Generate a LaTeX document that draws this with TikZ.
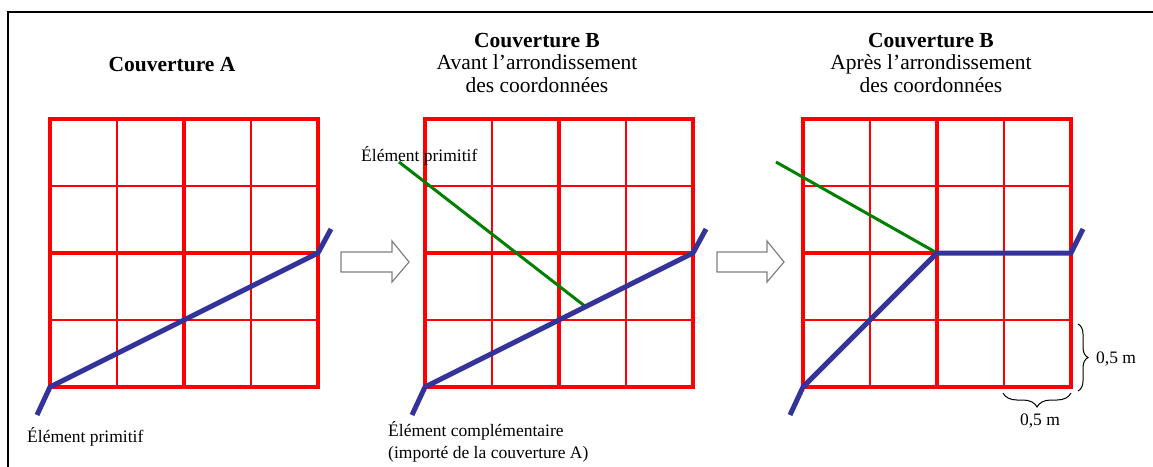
\documentclass[tikz,border=0pt]{standalone}
\usepackage{fontspec}
\setmainfont{Liberation Serif}
\usetikzlibrary{decorations.pathreplacing}
\definecolor{blueline}{RGB}{51,51,153}
\definecolor{greenline}{RGB}{0,128,0}
\definecolor{arrowgray}{RGB}{128,128,128}
\begin{document}
\begin{tikzpicture}[x=1pt,y=-1pt,
  thinred/.style={draw=red, line width=1.3pt},
  thickred/.style={draw=red, line width=4pt},
  bluepath/.style={draw=blueline, line width=5pt, line join=round},
  greenpath/.style={draw=greenline, line width=3pt},
  hollowarrow/.style={draw=arrowgray, line width=1.2pt, fill=white},
  ttl/.style={font=\fontsize{21.5}{22.5}\selectfont, align=center, inner sep=0pt},
  lbl/.style={font=\fontsize{17.5}{22}\selectfont, inner sep=0pt},
  bracestyle/.style={decorate, line width=1pt}
]
\useasboundingbox (0,0) rectangle (1153,466);
% frame
\draw[line width=1.5pt] (8,470) -- (8,12) -- (1160,12);

% grids
\foreach \gx in {50,425,803}{
  \foreach \i in {1,3}{
    \draw[thinred] (\gx+\i*67,119) -- (\gx+\i*67,387);
    \draw[thinred] (\gx,119+\i*67) -- (\gx+268,119+\i*67);
  }
  \draw[thickred] (\gx+134,119) -- (\gx+134,387);
  \draw[thickred] (\gx,253) -- (\gx+268,253);
  \draw[thickred] (\gx,119) rectangle (\gx+268,387);
}

% titles
\node[ttl, font=\fontsize{21.5}{22.5}\selectfont\bfseries, anchor=base] (tA) at (172,71) {Couverture A};
\node[ttl, anchor=base] (tB) at (537,92) {\textbf{Couverture B}\\Avant l’arrondissement\\des coordonnées};
\node[ttl, anchor=base] (tC) at (931,92) {\textbf{Couverture B}\\Après l’arrondissement\\des coordonnées};

% arrows
\draw[hollowarrow] (341,252) -- (392,252) -- (392,241) -- (409,262) -- (392,282) -- (392,272) -- (341,272) -- cycle;
\draw[hollowarrow] (717,252) -- (767,252) -- (767,241) -- (784,262) -- (767,282) -- (767,272) -- (717,272) -- cycle;

% panel A
\coordinate (a1) at (37,415);
\coordinate (a2) at (50,387);
\coordinate (a3) at (318,253);
\coordinate (a4) at (331,229);
\draw[bluepath] (a1) -- (a2) -- (a3) -- (a4);

% panel B
\coordinate (b1) at (412,415);
\coordinate (b2) at (425,387);
\coordinate (b3) at (693,253);
\coordinate (b4) at (706,229);
\coordinate (g1) at (399,162);
\coordinate (g2) at (586,307);
\draw[greenpath] (g1) -- (g2);
\draw[bluepath] (b1) -- (b2) -- (b3) -- (b4);

% panel C
\coordinate (c1) at (790,415);
\coordinate (c2) at (803,387);
\coordinate (c3) at (937,253);
\coordinate (c4) at (1071,253);
\coordinate (c5) at (1083,229);
\coordinate (h1) at (776,162);
\draw[greenpath] (h1) -- (c3);
\draw[bluepath] (c1) -- (c2) -- (c3) -- (c4) -- (c5);

% labels
\node[lbl, anchor=base west] (pA) at (27,442) {Élément primitif};
\node[lbl, anchor=base west] (pB) at (361,161) {Élément primitif};
\node[lbl, anchor=base west, align=left] (cB) at (388,458) {Élément complémentaire\\(importé de la couverture A)};

% braces
\coordinate (r1) at (1078,324);
\coordinate (r2) at (1078,391);
\draw[bracestyle, decoration={brace, amplitude=10pt}] (r1) -- (r2);
\node[lbl, anchor=base west] (mR) at (1096,363) {0,5 m};
\coordinate (d1) at (1071,393);
\coordinate (d2) at (1003,393);
\draw[bracestyle, decoration={brace, amplitude=14pt}] (d1) -- (d2);
\node[lbl, anchor=base] (mB) at (1040,425) {0,5 m};
\end{tikzpicture}
\end{document}
